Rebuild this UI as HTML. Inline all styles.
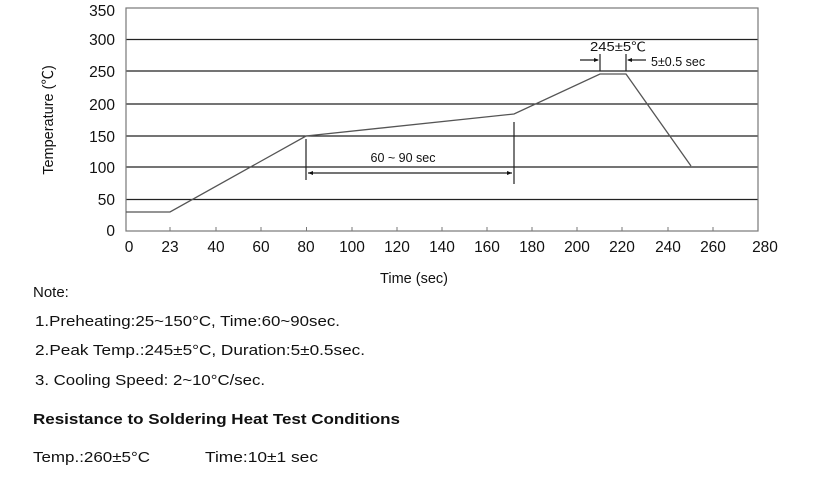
<!DOCTYPE html>
<html><head><meta charset="utf-8"><style>
html,body{margin:0;padding:0;background:#fff;}
svg{display:block;font-family:"Liberation Sans","Noto Sans CJK SC",sans-serif;}
</style></head><body>
<svg width="830" height="486" viewBox="0 0 830 486" xmlns="http://www.w3.org/2000/svg">
<g stroke="#222" stroke-width="1.3">
<line x1="126" y1="39.5" x2="758" y2="39.5"/>
<line x1="126" y1="71" x2="758" y2="71"/>
<line x1="126" y1="104" x2="758" y2="104"/>
<line x1="126" y1="136" x2="758" y2="136"/>
<line x1="126" y1="167" x2="758" y2="167"/>
<line x1="126" y1="199.5" x2="758" y2="199.5"/>
</g>
<rect x="126" y="8" width="632" height="223" fill="none" stroke="#777" stroke-width="1.2"/>
<g stroke="#777" stroke-width="1">
<line x1="170" y1="227" x2="170" y2="231"/><line x1="216" y1="227" x2="216" y2="231"/><line x1="261" y1="227" x2="261" y2="231"/><line x1="306.5" y1="227" x2="306.5" y2="231"/><line x1="352" y1="227" x2="352" y2="231"/><line x1="397" y1="227" x2="397" y2="231"/><line x1="442" y1="227" x2="442" y2="231"/><line x1="487" y1="227" x2="487" y2="231"/><line x1="532" y1="227" x2="532" y2="231"/><line x1="577" y1="227" x2="577" y2="231"/><line x1="622" y1="227" x2="622" y2="231"/><line x1="668" y1="227" x2="668" y2="231"/><line x1="713" y1="227" x2="713" y2="231"/>
</g>
<polyline points="126,212 170,212 306,136 514,114 600,74 626,74 691,166" fill="none" stroke="#555" stroke-width="1.3"/>
<g stroke="#222" stroke-width="1.2">
<line x1="306" y1="139" x2="306" y2="180"/>
<line x1="514" y1="122" x2="514" y2="184"/>
<line x1="308" y1="173" x2="512" y2="173"/>
<line x1="600" y1="54" x2="600" y2="71"/>
<line x1="626" y1="54" x2="626" y2="71"/>
<line x1="580" y1="60" x2="598" y2="60"/>
<line x1="628" y1="60" x2="646" y2="60"/>
</g>
<g fill="#111">
<polygon points="308,173 313,171 313,175"/><polygon points="512,173 507,171 507,175"/>
<polygon points="599,60 594,58 594,62"/><polygon points="627,60 632,58 632,62"/>
</g>
<g font-size="12.5" fill="#111">
<text x="403" y="162" text-anchor="middle">60 ~ 90 sec</text>
<text x="590" y="51" textLength="56" lengthAdjust="spacingAndGlyphs">245±5℃</text>
<text x="651" y="66">5±0.5 sec</text>
</g>
<g font-size="15.5" fill="#111" text-anchor="end">
<text x="115" y="16">350</text><text x="115" y="45">300</text><text x="115" y="77">250</text><text x="115" y="110">200</text><text x="115" y="142">150</text><text x="115" y="173">100</text><text x="115" y="205">50</text><text x="115" y="236">0</text>
</g>
<g font-size="15.5" fill="#111" text-anchor="middle">
<text x="129" y="252">0</text><text x="170" y="252">23</text><text x="216" y="252">40</text><text x="261" y="252">60</text><text x="306" y="252">80</text><text x="352" y="252">100</text><text x="397" y="252">120</text><text x="442" y="252">140</text><text x="487" y="252">160</text><text x="532" y="252">180</text><text x="577" y="252">200</text><text x="622" y="252">220</text><text x="668" y="252">240</text><text x="713" y="252">260</text><text x="765" y="252">280</text>
</g>
<text x="414" y="283" font-size="14.5" text-anchor="middle" fill="#111">Time (sec)</text>
<text transform="translate(53,120) rotate(-90)" font-size="14.5" text-anchor="middle" fill="#111">Temperature (℃)</text>
<g font-size="15" fill="#111">
<text x="33" y="297">Note:</text>
<text x="35" y="326" textLength="305" lengthAdjust="spacingAndGlyphs">1.Preheating:25~150°C, Time:60~90sec.</text>
<text x="35" y="355" textLength="330" lengthAdjust="spacingAndGlyphs">2.Peak Temp.:245±5°C, Duration:5±0.5sec.</text>
<text x="35" y="385" textLength="230" lengthAdjust="spacingAndGlyphs">3. Cooling Speed: 2~10°C/sec.</text>
<text x="33" y="424" font-weight="bold" textLength="367" lengthAdjust="spacingAndGlyphs">Resistance to Soldering Heat Test Conditions</text>
<text x="33" y="462" textLength="117" lengthAdjust="spacingAndGlyphs">Temp.:260±5°C</text>
<text x="205" y="462" textLength="113" lengthAdjust="spacingAndGlyphs">Time:10±1 sec</text>
</g>
</svg>
</body></html>
